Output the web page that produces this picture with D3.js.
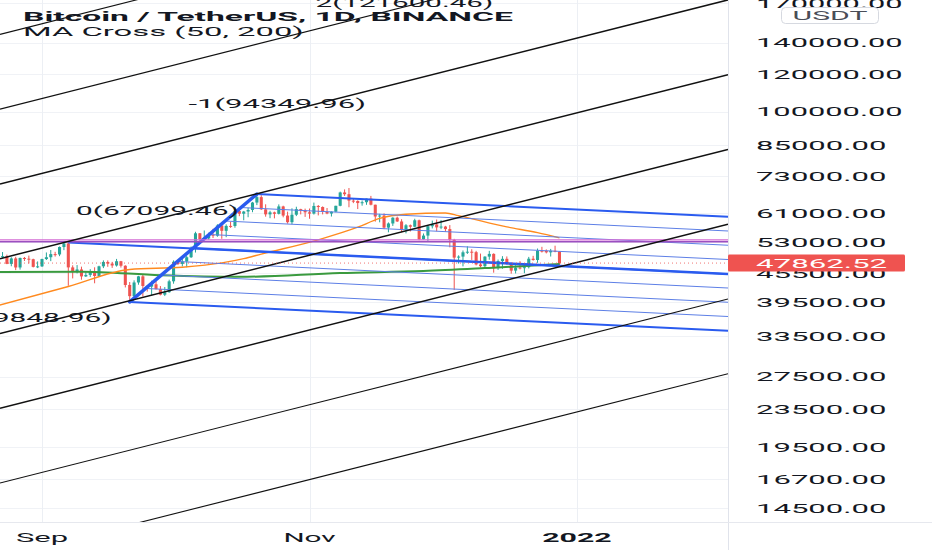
<!DOCTYPE html>
<html><head><meta charset="utf-8">
<script src="https://cdn.jsdelivr.net/npm/d3@7"></script>
<style>body{margin:0;background:#fff;}svg{display:block;}</style>
</head><body>
<svg id="c" width="932" height="550"></svg>
<script>
// ---------------- DATA ----------------
const candleStart = "2021-08-21";
const firstOpen = 49322;
const closes = [
 48821,49239,49504,47675,48953,46844,49069,48895,48767,46982,47100,
 48810,49246,49999,49915,51756,52663,46864,46048,46395,44850,45174,46026,44940,47111,48121,47738,47299,48292,47241,43015,40734,43543,44865,42810,42670,43160,42147,41026,41522,43790,
 48165,47657,48233,49245,51493,55340,53797,53963,54963,54691,57484,56006,57368,57347,61673,60875,61528,62009,64280,66001,62194,60688,61286,60852,63078,60328,58413,60575,62253,61859,61300,
 60911,63220,62896,61395,60937,61470,63273,67525,66947,64882,64774,64122,64380,65519,63606,60058,60344,56891,58052,59707,58622,56247,57541,57138,58960,53726,54721,57274,57776,56950,
 57184,56480,53601,49152,49396,50441,50588,50471,47545,47140,49389,50053,46702,48343,48864,47632,46131,46834,46681,46914,48889,48588,50838,50821,50429,50809,50640,47862.52];
const highs = [
 49757,49500,50500,49875,49240,49347,49150,49300,49632,48888,48246,
 48888,50400,51000,50558,51900,52780,52920,47340,47399,47033,45987,46460,46880,47250,48500,48488,48150,48843,48372,47356,43639,44000,44978,45200,42966,43919,44350,42787,42590,44132,
 48495,48359,49228,49536,51886,55750,55400,56100,55500,56561,57839,57680,57798,58532,62933,62350,61720,62695,64486,67000,66639,63732,61747,61500,63710,63293,61496,62499,62980,62359,62405,
 62437,64270,63500,63086,62595,61560,63286,67789,68530,69000,65600,65000,64915,65550,66401,63617,60840,60976,58352,59845,60029,59266,57875,57750,59398,59150,55280,57445,58865,59176,
 59053,57375,57600,53859,49699,50891,51936,51200,50797,50125,49485,50797,50189,48700,49500,49436,47995,47360,48300,47537,49328,49576,51375,51810,51156,51280,52088,50704];
const lows = [
 48300,48000,49034,47600,47123,46250,46363,48345,47762,46853,46700,
 46964,48584,48316,49400,49500,50969,42843,44413,45513,44132,44722,44742,43370,44750,46700,47000,46750,47050,46829,42500,39600,40565,43069,40675,41646,40829,42098,40888,40753,41410,
 43283,47400,47088,46891,49057,50382,53357,53617,53661,54080,54415,53879,54300,56818,56850,60150,58963,59844,61322,63481,62000,60000,59562,59510,60650,59817,58000,57820,60174,60673,59945,
 59405,60624,60382,60677,60721,60050,61322,63125,66382,62822,64100,62278,63303,63576,63400,58574,58373,56474,55600,57353,58486,55630,55318,55837,57000,53500,53610,53256,56666,55875,
 56458,55777,51680,42000,47727,47100,50039,48600,47320,46852,46751,48650,45672,46290,46547,47511,45456,45500,46406,45558,46630,48421,47920,50384,50171,49412,50450,47313];

const ma50Dates = ["2021-08-21","2021-09-07","2021-09-21","2021-10-03","2021-10-12","2021-10-17","2021-10-21","2021-11-03","2021-11-12","2021-11-17","2021-11-23","2021-12-02","2021-12-05","2021-12-16","2021-12-23","2021-12-28"];
const ma50 = [38700,42700,46400,46900,47900,48900,50000,53600,57000,59500,60700,61100,60300,57100,55500,54100];
const ma200Dates = ["2021-08-21","2021-09-10","2021-09-28","2021-10-16","2021-11-08","2021-11-27","2021-12-11","2021-12-24","2021-12-28"];
const ma200 = [45800,45900,45100,44750,45600,46050,46700,47400,47650];

const priceTicks = [170000,140000,120000,100000,85000,73000,61000,53000,45500,39500,33500,27500,23500,19500,16700,14500];
const timeTicks = ["2021-09-01","2021-11-01","2022-01-01"];
const timeTickLabels = ["Sep","Nov","2022"];

// black fib channel anchors (date, price)
const chanP1 = ["2021-09-21", 39848.96];   // level 1
const chanP2 = ["2022-01-31", 81300];      // level 1 direction
const chanP3 = ["2021-10-20", 67099.46];   // level 0
const chanLevels = [-3,-2,-1,0,1,2,3,4];
const chanLabelLevels = [-2,-1,0,1];
const chanLabels = ["2(121600.46)","-1(94349.96)","0(67099.46)","1(39848.96)"];

// blue channel anchors
const blueHigh = ["2021-10-20", 67000];
const blueLow = ["2021-09-21", 39600];
const blueDir = ["2022-01-31", 60260];
const blueLevels = [0,0.125,0.25,0.375,0.5,0.625,0.75,0.875,1];
const blueThick = [0,0.5,1];
const blueExtra = ["2021-09-07", 52920];

const hLevels = [53600, 53100];
const hColors = ["#d36bd3", "#9b4fc0"];

const title = "Bitcoin / TetherUS, 1D, BINANCE";
const subtitle = "MA Cross (50, 200)";
const currency = "USDT";

// ---------------- DRAW ----------------
const svg = d3.select("#c");
const plotW = 728, plotH = 522;
const parse = d3.utcParse("%Y-%m-%d");
const x = d3.scaleUtc().domain([parse("2021-09-01"), parse("2022-01-01")]).range([42, 577]);
const y = d3.scaleLog().domain([14500,170000]).range([508.1, 3]);
const FONT = "Roboto, 'Noto Sans', sans-serif";

function fit(sel, perChar){
  sel.attr("textLength", function(){ return this.textContent.length * perChar; })
     .attr("lengthAdjust","spacingAndGlyphs");
  return sel;
}

svg.append("rect").attr("width",932).attr("height",550).attr("fill","#fff");
svg.append("defs").append("clipPath").attr("id","clip")
  .append("rect").attr("x",0).attr("y",0).attr("width",plotW).attr("height",plotH);
const plot = svg.append("g").attr("clip-path","url(#clip)");

// grid
plot.selectAll(".hg").data(priceTicks).join("line")
  .attr("x1",0).attr("x2",plotW).attr("y1",d=>Math.round(y(d))+0.5).attr("y2",d=>Math.round(y(d))+0.5)
  .attr("stroke","#f0f2f6").attr("stroke-width",1);
plot.selectAll(".vg").data(timeTicks).join("line")
  .attr("y1",0).attr("y2",plotH).attr("x1",d=>Math.round(x(parse(d)))+0.5).attr("x2",d=>Math.round(x(parse(d)))+0.5)
  .attr("stroke","#eceff4").attr("stroke-width",1);

// candles
const candles = closes.map((c,i)=>({
  date: d3.utcDay.offset(parse(candleStart), i),
  o: i===0 ? firstOpen : closes[i-1], h: highs[i], l: lows[i], c
}));
const pxDay = x(parse("2021-09-02")) - x(parse("2021-09-01"));
const bw = Math.max(2, pxDay*0.7);
const cg = plot.append("g");
cg.selectAll(".wick").data(candles).join("line")
  .attr("x1",d=>x(d.date)).attr("x2",d=>x(d.date))
  .attr("y1",d=>y(d.h)).attr("y2",d=>y(d.l))
  .attr("stroke",d=>d.c>=d.o?"#26a69a":"#ef5350").attr("stroke-width",1);
cg.selectAll(".body").data(candles).join("rect")
  .attr("x",d=>x(d.date)-bw/2).attr("width",bw)
  .attr("y",d=>y(Math.max(d.o,d.c)))
  .attr("height",d=>Math.max(1, y(Math.min(d.o,d.c))-y(Math.max(d.o,d.c))))
  .attr("fill",d=>d.c>=d.o?"#26a69a":"#ef5350");

// moving averages
const maLine = d3.line().x(d=>x(parse(d[0]))).y(d=>y(d[1])).curve(d3.curveMonotoneX);
plot.append("path").attr("d", maLine(ma200Dates.map((d,i)=>[d,ma200[i]])))
  .attr("fill","none").attr("stroke","#3a9a3f").attr("stroke-width",2);
plot.append("path").attr("d", maLine(ma50Dates.map((d,i)=>[d,ma50[i]])))
  .attr("fill","none").attr("stroke","#ff8a1f").attr("stroke-width",1.4);

// blue channel
const BH=[x(parse(blueHigh[0])), y(blueHigh[1])];
const BL=[x(parse(blueLow[0])), y(blueLow[1])];
const BD=[x(parse(blueDir[0])), y(blueDir[1])];
const mb=(BD[1]-BH[1])/(BD[0]-BH[0]);
blueLevels.forEach(f=>{
  const sx=BH[0]+f*(BL[0]-BH[0]), sy=BH[1]+f*(BL[1]-BH[1]);
  const thick = blueThick.includes(f);
  plot.append("line").attr("x1",sx).attr("y1",sy).attr("x2",plotW).attr("y2",sy+mb*(plotW-sx))
    .attr("stroke", thick?"#2a5bef":"#5d7fe6").attr("stroke-width", thick?2:1);
});
{
  const sx=x(parse(blueExtra[0])), sy=y(blueExtra[1]);
  plot.append("line").attr("x1",sx).attr("y1",sy).attr("x2",plotW).attr("y2",sy+mb*(plotW-sx))
    .attr("stroke","#2a5bef").attr("stroke-width",2);
}
plot.append("line").attr("x1",BL[0]).attr("y1",BL[1]).attr("x2",BH[0]).attr("y2",BH[1])
  .attr("stroke","#2a5bef").attr("stroke-width",3.5).attr("stroke-linecap","round");

// horizontal purple lines
hLevels.forEach((v,i)=>{
  plot.append("line").attr("x1",0).attr("x2",plotW).attr("y1",y(v)).attr("y2",y(v))
    .attr("stroke",hColors[i]).attr("stroke-width",1.3);
});

// black fib channel
const P1=[x(parse(chanP1[0])), y(chanP1[1])];
const P2=[x(parse(chanP2[0])), y(chanP2[1])];
const P3=[x(parse(chanP3[0])), y(chanP3[1])];
const m=(P2[1]-P1[1])/(P2[0]-P1[0]);
const off=[P3[0]-P1[0], P3[1]-P1[1]];
const startOf = k => [P1[0]+(1-k)*off[0], P1[1]+(1-k)*off[1]];
chanLevels.forEach(k=>{
  const [sx,sy]=startOf(k);
  const yAt = xx => sy + m*(xx-sx);
  plot.append("line").attr("x1",0).attr("y1",yAt(0)).attr("x2",plotW).attr("y2",yAt(plotW))
    .attr("stroke","#111").attr("stroke-width", (k>=-1&&k<=2)?1.5:1.1);
});
chanLabelLevels.forEach((k,i)=>{
  const [sx,sy]=startOf(k);
  plot.append("text").attr("x",sx-18).attr("y",Math.max(sy+17,2.5))
    .attr("text-anchor","end").attr("dominant-baseline","central")
    .attr("font-family",FONT).attr("font-size",13).attr("fill","#131722")
    .text(chanLabels[i]).call(fit,14.8);
});

// last price line
const last = closes[closes.length-1];
plot.append("line").attr("x1",0).attr("x2",plotW).attr("y1",y(last)).attr("y2",y(last))
  .attr("stroke","#ef5350").attr("stroke-width",1).attr("stroke-dasharray","1 3").attr("opacity",0.8);

// axes borders
svg.append("line").attr("x1",plotW+0.5).attr("x2",plotW+0.5).attr("y1",0).attr("y2",550)
  .attr("stroke","#e0e3eb");
svg.append("line").attr("x1",0).attr("x2",932).attr("y1",plotH+0.5).attr("y2",plotH+0.5)
  .attr("stroke","#e6e8ee");

// price axis labels
svg.selectAll(".pl").data(priceTicks).join("text")
  .attr("x",756).attr("y",d=>y(d)).attr("dominant-baseline","central")
  .attr("font-family",FONT).attr("font-size",13).attr("fill","#131722")
  .text(d=>d3.format(".2f")(d)).call(fit,16.3);

// time labels
svg.selectAll(".tl").data(timeTicks).join("text")
  .attr("x",d=>x(parse(d))).attr("y",537).attr("text-anchor","middle").attr("dominant-baseline","central")
  .attr("font-family",FONT).attr("font-size",13).attr("fill","#131722")
  .attr("font-weight",(d,i)=>timeTickLabels[i]==="2022"?"bold":"normal")
  .text((d,i)=>timeTickLabels[i]).call(fit,17.4);

// last price label
const ly=y(last);
svg.append("rect").attr("x",plotW).attr("y",ly-8.5).attr("width",177).attr("height",17)
  .attr("fill","#ef5350").attr("rx",1.5);
svg.append("text").attr("x",756).attr("y",ly).attr("dominant-baseline","central")
  .attr("font-family",FONT).attr("font-size",13).attr("fill","#fff")
  .text(d3.format(".2f")(last)).call(fit,16.4);

// currency button
svg.append("rect").attr("x",781.5).attr("y",7.5).attr("width",97).attr("height",16).attr("rx",4)
  .attr("fill","#fff").attr("stroke","#d6d9e0");
svg.append("text").attr("x",830).attr("y",15.5).attr("text-anchor","middle").attr("dominant-baseline","central")
  .attr("font-family",FONT).attr("font-size",13).attr("fill","#4a4d57")
  .text(currency).call(fit,18.7);

// legend
svg.append("text").attr("x",23).attr("y",16).attr("dominant-baseline","central")
  .attr("font-family",FONT).attr("font-size",13).attr("font-weight","bold").attr("fill","#131722")
  .text(title).call(fit,15.8);
svg.append("text").attr("x",23).attr("y",31.5).attr("dominant-baseline","central")
  .attr("font-family",FONT).attr("font-size",13).attr("fill","#131722")
  .text(subtitle).call(fit,15.6);
</script>
</body></html>
